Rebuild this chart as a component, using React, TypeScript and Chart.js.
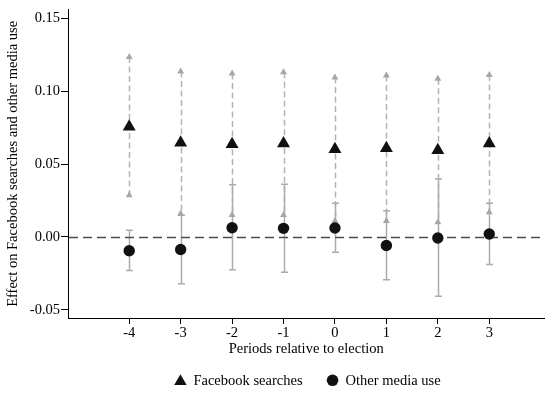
import { useEffect, useRef } from 'react';
import { Chart, registerables } from 'chart.js';

Chart.register(...registerables);

// Event-study estimates by period relative to the election
const periods = [-4, -3, -2, -1, 0, 1, 2, 3];
const facebookEffect = [0.0757, 0.0647, 0.0637, 0.0642, 0.0602, 0.061, 0.0595, 0.0642];
const facebookLower = [0.0286, 0.016, 0.0151, 0.0151, 0.0109, 0.0109, 0.01, 0.017];
const facebookUpper = [0.1236, 0.1136, 0.1122, 0.1132, 0.1095, 0.1109, 0.1086, 0.1113];
const mediaEffect = [-0.0095, -0.0086, 0.0063, 0.0059, 0.0061, -0.0059, -0.0007, 0.002];
const mediaLower = [-0.0231, -0.0321, -0.0226, -0.0242, -0.0106, -0.0294, -0.0407, -0.019];
const mediaUpper = [0.0045, 0.0149, 0.0358, 0.0362, 0.0231, 0.0179, 0.0398, 0.0231];
const yTicks = [-0.05, 0, 0.05, 0.1, 0.15];

const FONT = '"Liberation Serif", "Times New Roman", serif';
const FONT_SIZE = 14.5;

const toPoints = (vals: number[]) => periods.map((p, i) => ({ x: p, y: vals[i] }));

// Confidence intervals and the zero reference line, drawn beneath the markers
const intervalPlugin = {
  id: 'intervals',
  beforeDatasetsDraw(chart: any) {
    const { ctx, chartArea } = chart;
    const xs = chart.scales.x;
    const ys = chart.scales.y;
    ctx.save();

    ctx.strokeStyle = '#b3b3b3';
    ctx.lineWidth = 1.5;
    ctx.setLineDash([6, 3.5]);
    periods.forEach((p, i) => {
      const px = Math.round(xs.getPixelForValue(p)) + 0.5;
      ctx.beginPath();
      ctx.moveTo(px, ys.getPixelForValue(facebookUpper[i]));
      ctx.lineTo(px, ys.getPixelForValue(facebookLower[i]));
      ctx.stroke();
    });

    ctx.setLineDash([]);
    ctx.strokeStyle = '#acacac';
    ctx.lineWidth = 1.5;
    periods.forEach((p, i) => {
      const px = Math.round(xs.getPixelForValue(p)) + 0.5;
      const top = ys.getPixelForValue(mediaUpper[i]);
      const bot = ys.getPixelForValue(mediaLower[i]);
      ctx.beginPath();
      ctx.moveTo(px, top);
      ctx.lineTo(px, bot);
      ctx.moveTo(px - 3.5, top);
      ctx.lineTo(px + 3.5, top);
      ctx.moveTo(px - 3.5, bot);
      ctx.lineTo(px + 3.5, bot);
      ctx.stroke();
    });

    const zy = Math.round(ys.getPixelForValue(0)) + 0.5;
    ctx.strokeStyle = '#4d4d4d';
    ctx.lineWidth = 1.3;
    ctx.setLineDash([9, 5]);
    ctx.beginPath();
    ctx.moveTo(chartArea.left + 1, zy);
    ctx.lineTo(chartArea.right, zy);
    ctx.stroke();
    ctx.restore();
  },
};

// Legend row centred beneath the plot area
const legendRowPlugin = {
  id: 'legendRow',
  afterDraw(chart: any) {
    const { ctx, chartArea } = chart;
    const items = [chart.data.datasets[0], chart.data.datasets[1]];
    ctx.save();
    ctx.font = `${FONT_SIZE}px ${FONT}`;
    ctx.fillStyle = '#000';
    ctx.textBaseline = 'alphabetic';
    ctx.textAlign = 'left';
    const markerToText = 13;
    const textToNext = 30;
    const widths = items.map((d: any) => ctx.measureText(d.label).width);
    const total = 6.5 + markerToText + widths[0] + textToNext + markerToText + widths[1];
    let cx = (chartArea.left + chartArea.right) / 2 - total / 2 + 7.5;
    const baseline = chartArea.bottom + 67;
    items.forEach((d: any, i: number) => {
      ctx.fillStyle = '#111';
      ctx.beginPath();
      if (d.pointStyle === 'triangle') {
        const r = 7.2;
        const cy = baseline - 3.5;
        ctx.moveTo(cx, cy - r);
        ctx.lineTo(cx + r * Math.sin((2 * Math.PI) / 3), cy + r / 2);
        ctx.lineTo(cx - r * Math.sin((2 * Math.PI) / 3), cy + r / 2);
        ctx.closePath();
      } else {
        ctx.arc(cx, baseline - 4.7, 5.8, 0, Math.PI * 2);
      }
      ctx.fill();
      ctx.fillStyle = '#000';
      ctx.fillText(d.label, cx + markerToText, baseline);
      cx += markerToText + widths[i] + textToNext;
    });
    ctx.restore();
  },
};

export default function App() {
  const canvasRef = useRef<HTMLCanvasElement | null>(null);

  useEffect(() => {
    const canvas = canvasRef.current;
    if (!canvas) return;
    const chart = new Chart(canvas, {
      type: 'scatter',
      data: {
        datasets: [
          {
            label: 'Facebook searches',
            data: toPoints(facebookEffect),
            pointStyle: 'triangle',
            pointRadius: 7.5,
            backgroundColor: '#111',
            borderColor: '#111',
            borderWidth: 0,
          },
          {
            label: 'Other media use',
            data: toPoints(mediaEffect),
            pointStyle: 'circle',
            pointRadius: 5.7,
            backgroundColor: '#111',
            borderColor: '#111',
            borderWidth: 0,
          },
          {
            label: 'Facebook upper bound',
            data: toPoints(facebookUpper),
            pointStyle: 'triangle',
            pointRadius: 4,
            backgroundColor: '#a6a6a6',
            borderWidth: 0,
          },
          {
            label: 'Facebook lower bound',
            data: toPoints(facebookLower),
            pointStyle: 'triangle',
            pointRadius: 4,
            backgroundColor: '#a6a6a6',
            borderWidth: 0,
          },
        ],
      },
      options: {
        responsive: false,
        animation: false,
        layout: { padding: { top: 6, right: 1, left: 0, bottom: 35 } },
        plugins: {
          legend: { display: false },
          tooltip: { enabled: false },
        },
        scales: {
          x: {
            type: 'linear',
            min: -5.19,
            max: 4.074,
            afterFit: (s: any) => {
              s.height = 40;
            },
            afterBuildTicks: (s: any) => {
              s.ticks = periods.map((v) => ({ value: v }));
            },
            ticks: {
              color: '#000',
              font: { family: FONT, size: FONT_SIZE },
              padding: 0,
              maxRotation: 0,
              callback: (v: any) => String(v),
            },
            grid: { drawOnChartArea: false, drawTicks: true, tickLength: 6, color: '#000', lineWidth: 1 },
            border: { display: true, color: '#000', width: 1 },
            title: {
              display: true,
              text: 'Periods relative to election',
              color: '#000',
              font: { family: FONT, size: FONT_SIZE },
              padding: { top: 0, bottom: 0 },
            },
          },
          y: {
            type: 'linear',
            min: -0.0557,
            max: 0.1561,
            afterFit: (s: any) => {
              s.width = 68;
            },
            afterBuildTicks: (s: any) => {
              s.ticks = yTicks.map((v) => ({ value: v }));
            },
            ticks: {
              color: '#000',
              font: { family: FONT, size: FONT_SIZE },
              padding: 1,
              callback: (v: any) => Number(v).toFixed(2),
            },
            grid: { drawOnChartArea: false, drawTicks: true, tickLength: 7, color: '#000', lineWidth: 1 },
            border: { display: true, color: '#000', width: 1 },
            title: {
              display: true,
              text: 'Effect on Facebook searches and other media use',
              color: '#000',
              font: { family: FONT, size: FONT_SIZE },
              padding: { top: 4, bottom: 0 },
            },
          },
        },
      },
      plugins: [intervalPlugin, legendRowPlugin],
    });
    return () => chart.destroy();
  }, []);

  return (
    <div style={{ position: 'absolute', left: 0, top: 0, width: 552, height: 393, background: '#fff' }}>
      <canvas ref={canvasRef} width={552} height={393} />
    </div>
  );
}
